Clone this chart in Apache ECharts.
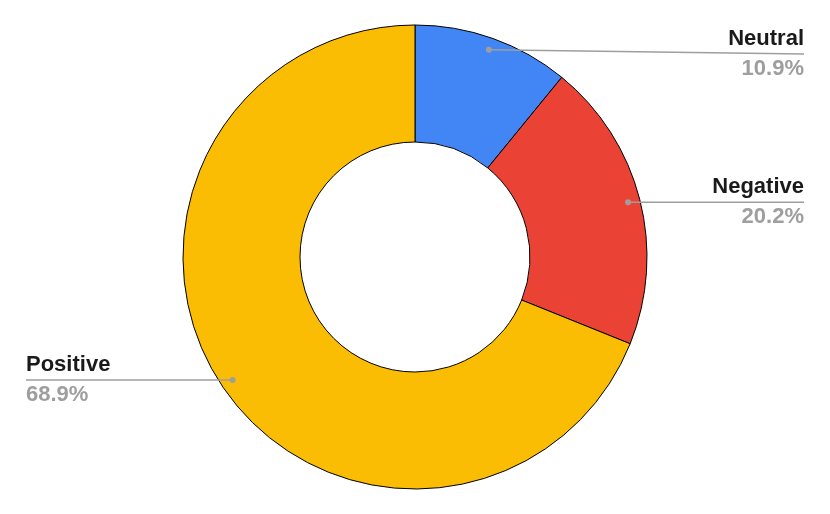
<!DOCTYPE html>
<html>
<head>
    <meta charset="utf-8">
    <title>Sentiment</title>
    <script src="https://cdn.jsdelivr.net/npm/echarts@6/dist/echarts.min.js"></script>
    <style>
        html, body { margin: 0; padding: 0; background: #fff; }
        #main { width: 830px; height: 514px; }
    </style>
</head>
<body>
<div id="main"></div>
<script type="text/javascript">
    // 分类与数值
    var names = ['Neutral', 'Negative', 'Positive'];
    var values = [10.9, 20.2, 68.9];
    var colors = ['#4285F4', '#EA4335', '#FBBC04'];

    var chart = echarts.init(document.getElementById('main'));
    // 引线路径(起点带圆点)
    var guides = [];

    var pieData = names.map(function (n, i) {
        return {name: n, value: values[i], itemStyle: {color: colors[i]}};
    });

    chart.setOption({
        animation: false,
        series: [{
            type: 'pie',
            center: ['50%', '50%'],
            radius: [115, 232],
            startAngle: 90,
            clockwise: true,
            data: pieData,
            itemStyle: {borderColor: '#000', borderWidth: 1},
            label: {
                show: true,
                position: 'outside',
                alignTo: 'edge',
                edgeDistance: 26,
                formatter: '{n|{b}}\n{p|{d}%}',
                rich: {
                    n: {fontFamily: 'Liberation Sans', fontWeight: 'bold', fontSize: 22, color: '#1a1a1a', lineHeight: 30},
                    p: {fontFamily: 'Liberation Sans', fontWeight: 'bold', fontSize: 22, color: '#9e9e9e', lineHeight: 30}
                }
            },
            // 自带引线在扇区下方, 只用来取位置
            labelLine: {show: true, length: 10, length2: 10, lineStyle: {color: '#9e9e9e', width: 1.5, opacity: 0}},
            labelLayout: function (p) {
                var pts = p.labelLinePoints;
                if (!pts) return;
                var cx = chart.getWidth() / 2, cy = chart.getHeight() / 2;
                var dx = pts[0][0] - cx, dy = pts[0][1] - cy;
                var r = Math.sqrt(dx * dx + dy * dy);
                var k = (r - 12) / r;
                var start = [cx + dx * k, cy + dy * k];
                var lr = p.labelRect;
                var right = lr.x + lr.width / 2 > cx;
                // 标签垂直居中于引线, 顶部留白
                var ey = Math.max(start[1], lr.height / 2 + 28);
                var ex = right ? lr.x + lr.width : lr.x;
                if (!guides[p.dataIndex]) {
                    guides[p.dataIndex] = [start, [ex, ey]];
                }
                return {
                    y: ey,
                    verticalAlign: 'middle'
                };
            }
        }]
    });

    // 引线画在扇区之上, 起点加圆点
    var graphics = [];
    guides.forEach(function (g) {
        graphics.push({type: 'polyline', shape: {points: g}, style: {stroke: '#9e9e9e', lineWidth: 1.5, fill: null}, z: 100});
        graphics.push({type: 'circle', shape: {cx: g[0][0], cy: g[0][1], r: 3}, style: {fill: '#9e9e9e'}, z: 101});
    });
    chart.setOption({graphic: graphics});
</script>
</body>
</html>
